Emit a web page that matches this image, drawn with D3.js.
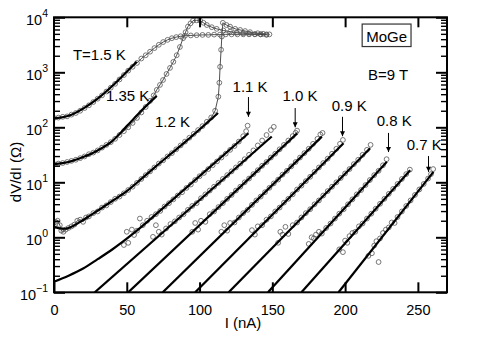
<!DOCTYPE html>
<html><head><meta charset="utf-8">
<script src="https://cdn.jsdelivr.net/npm/d3@7"></script>
<style>
body{margin:0;background:#fff}
svg{display:block}
text{font-family:"Liberation Sans",Arial,Helvetica,sans-serif;fill:#000}
</style>
</head><body>
<svg id="chart" width="485" height="342"></svg>
<script>
// ---------- axis ticks ----------
const xTickValues = [0, 50, 100, 150, 200, 250];
const yDecadeExp = [-1, 0, 1, 2, 3, 4];

// ---------- fit curves (I in nA, R in Ohm) ----------
const fitI_150 = [0, 10, 20, 30, 40, 50, 56.8];
const fitR_150 = [145, 162, 219, 331, 562, 1023, 1549];
const fitI_135 = [0, 10, 20, 30, 40, 50, 60, 70.6];
const fitR_135 = [21.4, 23.4, 28.8, 38.0, 56.2, 105, 200, 372];
const fitI_120 = [0, 4, 8, 12, 18, 25, 32, 40, 50, 60, 70, 80, 90, 100, 112.7];
const fitR_120 = [1.55, 1.45, 1.43, 1.55, 1.91, 2.51, 3.31, 4.57, 6.92, 11.5, 19.5, 32.4, 53.7, 91.2, 182];
const fitI_110 = [0, 10, 20, 30, 40, 55, 80, 133.6];
const fitR_110 = [0.156, 0.2, 0.27, 0.40, 0.6, 1.2, 4.46, 78];

// straight exponential fits of the lower-temperature curves (start at the bottom axis)
const lineStartI = [28, 51, 74.7, 97, 120, 147, 170, 195.5];
const lineStartR = [0.1, 0.1, 0.1, 0.1, 0.1, 0.1, 0.1, 0.1];
const lineEndI = [149.6, 167, 184, 198.9, 217.2, 228.7, 244.7, 260.7];
const lineEndR = [68, 77.6, 67.6, 51.3, 41.7, 23.7, 16.6, 15.5];

// ---------- measured points ----------
const dI_150 = [0,3,6,9,12,15,18,21,24,27,30,33,36,39,42,45,48,51,54,57,60,63,66,69,72,75,78,81,84,87,90,94,98,102,106,110,114,118,122,126,130,134,138,142,146];
const dR_150 = [148,150,155,158,170,182,200,224,251,288,331,380,447,525,617,741,891,1072,1259,1479,1778,2042,2371,2754,3162,3548,3890,4169,4365,4519,4624,4677,4732,4786,4786,4842,4842,4898,4898,4898,4898,4898,4898,4898,4898];

const dI_135 = [0,3,6,9,12,15,18,21,24,27,30,33,36,39,42,45,48,51,54,57,60,63,66,68.5,70.6,72.8,74.9,77.3,79.7,82,84.3,86.5,88.7,90.4,92,93.8,95.5,98,100.4,102.7,105,108.4,111.8,116.4,121,125.5,130,134,138,142,146];
const dR_135 = [21.4,21.9,22.4,23.4,24.5,25.7,27.5,29.5,32.4,34.7,38.0,42.7,47.9,53.7,61.7,72.4,85.1,100,120,148,186,234,302,380,479,589,724,933,1202,1549,2042,2884,4169,5370,6761,7762,8710,8810,8710,7943,7244,6607,6166,5754,5495,5248,5129,5012,4955,4898,4786];

const dI_120 = [0,1,2.5,4,5,6.5,8,10,12,14,16,18,20,22,24,27,30,33,36,39,42,45,48,51,54,57,60,63,66,69,72,75,78,81,84,87,90,93,96,99,102,105,108,110.7,112.9,113.6,114.1,114.8,115.3,116,118.5,121,124.5,127.9,131.3,134.7,140,143.7,148];
const dR_120 = [1.58,1.91,2.0,1.66,1.32,1.26,1.38,1.48,1.58,1.70,2.0,2.09,1.91,2.29,2.40,2.75,2.95,3.47,3.80,4.37,5.01,5.50,6.31,7.24,8.32,9.77,11.5,13.5,15.8,18.6,21.9,25.1,29.5,33.9,39.8,46.8,55.0,64.6,75.9,89.1,105,126,151,200,360,646,1259,2570,4467,7943,7244,6761,6166,5888,5623,5370,5129,5012,4898];

const dI_110 = [48,50,51,53.5,55,57,59,61,64,67,70,73,76,79,82,85,88,91,94,97,100,103,106,109,112,115,118,121,124,127,130,132,133];
const dR_110 = [0.724,1.26,0.794,1.38,1.10,1.32,2.19,1.66,2.0,2.34,2.63,3.02,3.63,4.17,4.9,5.75,6.6,7.9,9.1,11.0,12.9,14.8,17.4,20.4,24.0,28.2,33.1,38.9,45.7,55,69,85,107];

const dI_105 = [68,70,72,74,77,80,83,86,89,92,95,98,101,104,107,110,113,116,119,122,125,128,131,134,137,140,143,146,149,151];
const dR_105 = [1.02,1.66,1.26,1.12,1.45,1.74,1.95,2.29,2.63,3.16,3.72,4.17,5.13,6.03,7.08,8.32,9.77,11.5,13.5,15.8,18.6,21.9,26.3,31.6,38.0,46.8,57.5,72.4,89.1,102];

const dI_100 = [95,97,99,101,104,107,110,113,116,119,122,125,128,131,134,137,140,143,146,149,152,155,158,161,164,166,167];
const dR_100 = [1.26,1.82,1.38,2.0,1.91,2.63,2.95,3.55,4.17,5.01,5.89,7.08,8.32,10.0,11.7,14.1,16.6,20.0,23.4,28.2,33.1,39.8,47.9,57.5,69.2,79.4,87];

const dI_095 = [115,117,119,121,124,127,130,133,136,139,142,145,148,151,154,157,160,163,166,169,172,175,178,181,183,184.5];
const dR_095 = [1.26,1.66,1.32,1.82,1.86,2.29,2.75,3.16,3.89,4.68,5.50,6.61,7.94,9.55,11.2,13.8,16.2,19.5,23.4,28.2,33.9,40.7,50.1,61.7,74.1,79];

const dI_090 = [136,138,140,143,146,149,152,155,158,161,164,167,170,173,176,179,182,185,188,191,194,196.5,198.5];
const dR_090 = [1.35,1.12,1.58,1.66,2.09,2.40,2.95,3.47,4.27,5.01,6.03,7.41,8.71,10.5,12.6,15.5,18.6,22.4,26.9,33.1,40.7,50.1,58.9];

const dI_085 = [154,155.5,157,159,161,164,167,170,173,176,179,182,185,188,191,194,197,200,203,206,209,212,215,217.5];
const dR_085 = [0.794,1.26,1.12,1.55,1.15,1.66,1.86,2.29,2.75,3.24,3.98,4.68,5.75,6.92,8.32,10.0,12.0,14.5,17.4,21.4,25.7,31.6,38.9,47.9];

const dI_080 = [175,177,178.5,180,182,184,187,190,193,196,199,202,205,208,211,214,217,220,223,226,228.5];
const dR_080 = [0.759,1.0,0.955,1.12,1.26,1.17,1.48,1.78,2.19,2.69,3.24,3.98,4.90,6.03,7.24,8.91,11.0,13.5,16.2,20.4,26.3];

const dI_075 = [196,198.5,200,201.5,203,205,207,209.5,212,215,218,221,224,227,230,233,236,239,242,244.5];
const dR_075 = [0.603,0.537,0.871,0.794,1.05,1.20,1.26,1.58,1.78,2.19,2.69,3.31,4.07,5.01,6.17,7.59,9.33,11.5,14.1,17.0];

const dI_070 = [216,218.4,220,221.5,223,224,226,228,230,232,234,236,239,242,245,248,251,254,257,259,260.5];
const dR_070 = [0.46,0.513,0.708,0.85,0.355,0.955,1.20,1.38,1.51,1.86,1.82,2.34,2.95,3.72,4.68,5.89,7.41,9.33,11.7,14.1,17.4];

// ---------- annotations (data coordinates) ----------
const labelText = ["T=1.5 K", "1.35 K", "1.2 K", "1.1 K", "1.0 K", "0.9 K", "0.8 K", "0.7 K"];
const labelI = [13, 35.7, 69.4, 134.7, 169, 202.8, 233.7, 254.3];
const labelR = [1675, 307, 101, 436, 302, 200, 105, 39];
const labelAnchor = ["start", "start", "start", "middle", "middle", "middle", "middle", "middle"];
const arrowI = [133.6, 165.7, 198.2, 229.8, 257.3];
const arrowFromR = [355, 224, 155, 79, 30];
const arrowToR = [155, 100, 69, 35.5, 15.5];
const sampleText = "MoGe";
const sampleI = 228.5, sampleR = 3548;
const fieldText = "B=9 T";
const fieldI = 215.8, fieldR = 724;

// ---------- drawing ----------
const L = 54, R = 447, T = 17.3, B = 292.3;
const svg = d3.select("#chart");
const x = d3.scaleLinear().domain([0, 270]).range([L, R]);
const y = d3.scaleLog().domain([0.1, 1e4]).range([B, T]);

const defs = svg.append("defs");
defs.append("clipPath").attr("id", "clip")
  .append("rect").attr("x", L).attr("y", T).attr("width", R - L).attr("height", B - T);
defs.append("marker").attr("id", "arr").attr("viewBox", "0 0 10 10")
  .attr("refX", 10).attr("refY", 5).attr("markerWidth", 7).attr("markerHeight", 5)
  .attr("markerUnits", "userSpaceOnUse").attr("orient", "auto")
  .append("path").attr("d", "M0,0L10,5L0,10Z").attr("fill", "#000");

const plot = svg.append("g").attr("clip-path", "url(#clip)");
const zip = (a, b) => a.map((v, i) => [v, b[i]]);
const lineGen = d3.line().x(d => x(d[0])).y(d => y(d[1]));
const curveGen = d3.line().x(d => x(d[0])).y(d => y(d[1])).curve(d3.curveMonotoneX);

// thin connecting lines for the upper data sets
[[dI_150, dR_150], [dI_135, dR_135], [dI_120, dR_120]].forEach(([a, b]) => {
  plot.append("path").attr("d", lineGen(zip(a, b)))
    .attr("fill", "none").attr("stroke", "#222").attr("stroke-width", 0.8);
});

// circles
const circleSets = [[dI_150, dR_150], [dI_135, dR_135], [dI_120, dR_120], [dI_110, dR_110],
  [dI_105, dR_105], [dI_100, dR_100], [dI_095, dR_095], [dI_090, dR_090], [dI_085, dR_085],
  [dI_080, dR_080], [dI_075, dR_075], [dI_070, dR_070]];
circleSets.forEach(([a, b]) => {
  plot.append("g").selectAll("circle").data(zip(a, b)).join("circle")
    .attr("cx", d => x(d[0])).attr("cy", d => y(d[1])).attr("r", 2.4)
    .attr("fill", "none").attr("stroke", "#555").attr("stroke-width", 0.8);
});

// fit curves
[[fitI_150, fitR_150], [fitI_135, fitR_135], [fitI_120, fitR_120], [fitI_110, fitR_110]].forEach(([a, b]) => {
  plot.append("path").attr("d", curveGen(zip(a, b)))
    .attr("fill", "none").attr("stroke", "#000").attr("stroke-width", 2.2);
});
lineStartI.forEach((s, i) => {
  plot.append("path").attr("d", lineGen([[s, lineStartR[i]], [lineEndI[i], lineEndR[i]]]))
    .attr("fill", "none").attr("stroke", "#000").attr("stroke-width", 2.2);
});

// axes (ticks inside)
const minorVals = [];
yDecadeExp.slice(0, -1).forEach(e => { for (let k = 2; k <= 9; k++) minorVals.push(k * Math.pow(10, e)); });
const majorVals = yDecadeExp.map(e => Math.pow(10, e));

function styleAxis(g, w) {
  g.select(".domain").remove();
  g.selectAll(".tick line").attr("stroke", "#000").attr("stroke-width", w);
}
svg.append("g").attr("transform", `translate(0,${B})`)
  .call(d3.axisBottom(x).tickValues(xTickValues).tickSize(-10).tickPadding(12.5))
  .call(g => { styleAxis(g, 2); g.selectAll("text").attr("font-size", 14.5).attr("font-family", "Liberation Sans, Arial, sans-serif").attr("fill", "#000"); });
svg.append("g").attr("transform", `translate(0,${T})`)
  .call(d3.axisTop(x).tickValues(xTickValues.slice(1)).tickSize(-10).tickFormat(""))
  .call(g => styleAxis(g, 2));
svg.append("g").attr("transform", `translate(${L},0)`)
  .call(d3.axisLeft(y).tickValues(majorVals).tickSize(-11).tickFormat(""))
  .call(g => styleAxis(g, 2));
svg.append("g").attr("transform", `translate(${L},0)`)
  .call(d3.axisLeft(y).tickValues(minorVals).tickSize(-6).tickFormat(""))
  .call(g => styleAxis(g, 1.4));
svg.append("g").attr("transform", `translate(${R},0)`)
  .call(d3.axisRight(y).tickValues(majorVals).tickSize(-11).tickFormat(""))
  .call(g => styleAxis(g, 2));
svg.append("g").attr("transform", `translate(${R},0)`)
  .call(d3.axisRight(y).tickValues(minorVals).tickSize(-6).tickFormat(""))
  .call(g => styleAxis(g, 1.4));

svg.append("rect").attr("x", L).attr("y", T).attr("width", R - L).attr("height", B - T)
  .attr("fill", "none").attr("stroke", "#000").attr("stroke-width", 2);

// y tick labels 10^n
yDecadeExp.forEach(e => {
  const t = svg.append("text").attr("x", 48).attr("y", y(Math.pow(10, e)) + 8)
    .attr("text-anchor", "end").attr("font-size", 14.5);
  t.append("tspan").text("10");
  t.append("tspan").attr("dy", -8).attr("font-size", 10.5).text(String(e).replace("-", "\u2212"));
});

// axis titles
svg.append("text").attr("x", 243).attr("y", 328).attr("text-anchor", "middle")
  .attr("font-size", 15).text("I (nA)");
svg.append("text").attr("transform", "translate(21,172) rotate(-90)").attr("text-anchor", "middle")
  .attr("font-size", 15).text("dV/dI (\u03A9)");

// temperature labels and arrows
labelText.forEach((s, i) => {
  svg.append("text").attr("x", x(labelI[i])).attr("y", y(labelR[i]))
    .attr("text-anchor", labelAnchor[i]).attr("font-size", 15).text(s);
});
arrowI.forEach((a, i) => {
  svg.append("line").attr("x1", x(a)).attr("x2", x(a))
    .attr("y1", y(arrowFromR[i])).attr("y2", y(arrowToR[i]))
    .attr("stroke", "#000").attr("stroke-width", 1).attr("marker-end", "url(#arr)");
});

// sample box
const boxRect = svg.append("rect");
const st = svg.append("text").attr("x", x(sampleI)).attr("y", y(sampleR))
  .attr("text-anchor", "middle").attr("font-size", 15).text(sampleText);
const bb = st.node().getBBox();
boxRect.attr("x", bb.x - 4).attr("y", bb.y - 4)
  .attr("width", bb.width + 8).attr("height", bb.height + 5.5)
  .attr("fill", "#fff").attr("stroke", "#333").attr("stroke-width", 1.2);
svg.append("text").attr("x", x(fieldI)).attr("y", y(fieldR))
  .attr("font-size", 15).text(fieldText);
</script>
</body></html>
